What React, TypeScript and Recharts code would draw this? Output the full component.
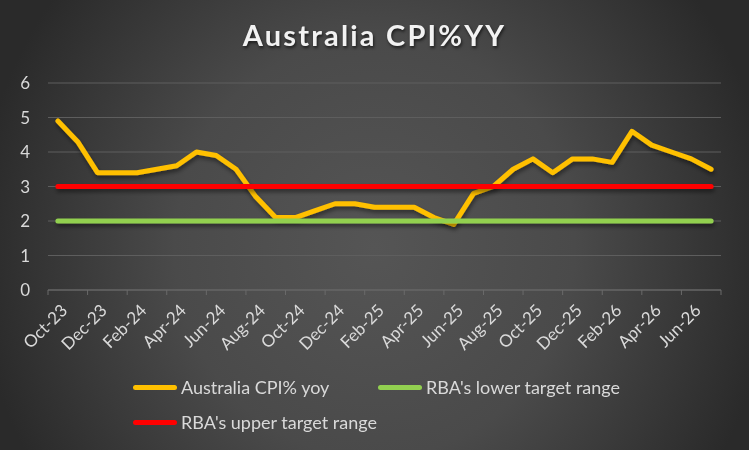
import React from 'react';
import { LineChart, Line, XAxis, YAxis, CartesianGrid } from 'recharts';

const months = [
  'Oct-23', 'Nov-23', 'Dec-23', 'Jan-24', 'Feb-24', 'Mar-24', 'Apr-24', 'May-24', 'Jun-24', 'Jul-24',
  'Aug-24', 'Sep-24', 'Oct-24', 'Nov-24', 'Dec-24', 'Jan-25', 'Feb-25', 'Mar-25', 'Apr-25', 'May-25',
  'Jun-25', 'Jul-25', 'Aug-25', 'Sep-25', 'Oct-25', 'Nov-25', 'Dec-25', 'Jan-26', 'Feb-26', 'Mar-26',
  'Apr-26', 'May-26', 'Jun-26', 'Jul-26',
];

const cpiYoy = [
  4.9, 4.3, 3.4, 3.4, 3.4, 3.5, 3.6, 4.0, 3.9, 3.5,
  2.7, 2.1, 2.1, 2.3, 2.5, 2.5, 2.4, 2.4, 2.4, 2.1,
  1.9, 2.8, 3.0, 3.5, 3.8, 3.4, 3.8, 3.8, 3.7, 4.6,
  4.2, 4.0, 3.8, 3.5,
];

const lowerTarget = [
  2, 2, 2, 2, 2, 2, 2, 2, 2, 2, 2, 2, 2, 2, 2, 2, 2,
  2, 2, 2, 2, 2, 2, 2, 2, 2, 2, 2, 2, 2, 2, 2, 2, 2,
];

const upperTarget = [
  3, 3, 3, 3, 3, 3, 3, 3, 3, 3, 3, 3, 3, 3, 3, 3, 3,
  3, 3, 3, 3, 3, 3, 3, 3, 3, 3, 3, 3, 3, 3, 3, 3, 3,
];

const yTicks = [0, 1, 2, 3, 4, 5, 6];

const seriesNames = ['Australia CPI% yoy', "RBA's lower target range", "RBA's upper target range"];
const seriesColors = ['#FFC000', '#92D050', '#FF0000'];

const data = months.map((m, i) => ({
  month: m,
  cpi: cpiYoy[i],
  lower: lowerTarget[i],
  upper: upperTarget[i],
}));

const FONT = "Lato, 'Open Sans', sans-serif";
const TEXT = '#d9d9d9';
const AXIS = '#6a6a6a';

const XTick = (props: any) => {
  const { x, y, payload, index } = props;
  const half = payload && typeof payload.offset === 'number' && payload.offset > 0 ? payload.offset : 9.9;
  const last = months.length - 1;
  const ax = x + 6;
  const ay = y + 17;
  return (
    <g>
      {index % 2 === 0 && (
        <line x1={x - half} x2={x - half} y1={y} y2={y + 5} stroke={AXIS} strokeWidth={1} />
      )}
      {index === last && (
        <line x1={x + half} x2={x + half} y1={y} y2={y + 5} stroke={AXIS} strokeWidth={1} />
      )}
      {index % 2 === 0 && (
        <text
          x={ax}
          y={ay}
          textAnchor="end"
          fill={TEXT}
          fontSize={17}
          fontFamily={FONT}
          transform={`rotate(-45, ${ax}, ${ay})`}
          dominantBaseline="central"
        >
          {payload.value}
        </text>
      )}
    </g>
  );
};

const LegendItem = ({ color, label, left, top }: { color: string; label: string; left: number; top: number }) => (
  <div style={{ position: 'absolute', left, top, display: 'flex', alignItems: 'center', height: 22 }}>
    <div style={{ width: 44, height: 5, borderRadius: 3, background: color, marginRight: 4 }} />
    <span style={{ color: TEXT, fontSize: 18, fontFamily: FONT, whiteSpace: 'nowrap' }}>{label}</span>
  </div>
);

export default function App() {
  return (
    <div
      style={{
        position: 'fixed',
        left: 0,
        top: 0,
        width: 749,
        height: 450,
        overflow: 'hidden',
        background:
          'radial-gradient(ellipse 400px 420px at 50% 55%, #555555 0%, #4a4a4a 50%, #2a2a2a 100%)',
      }}
    >
      <div
        style={{
          position: 'absolute',
          left: 0,
          top: 17,
          width: 749,
          textAlign: 'center',
          color: '#f2f2f2',
          fontFamily: FONT,
          fontWeight: 700,
          fontSize: 29,
          letterSpacing: 2.2,
          textShadow: '1px 2px 3px rgba(0,0,0,0.6)',
        }}
      >
        Australia CPI%YY
      </div>
      <div style={{ position: 'absolute', left: 0, top: 0 }}>
        <LineChart width={749} height={450} data={data} margin={{ top: 83, right: 28, bottom: 100, left: 0 }}>
          <defs>
            <filter id="lineShadow" filterUnits="userSpaceOnUse" x="0" y="0" width="749" height="450">
              <feDropShadow dx="1" dy="3" stdDeviation="2" floodColor="#000" floodOpacity="0.45" />
            </filter>
          </defs>
          <CartesianGrid vertical={false} stroke="#5e5e5e" strokeWidth={1} />
          <XAxis
            dataKey="month"
            scale="band"
            interval={0}
            tickSize={0}
            tickMargin={0}
            tickLine={false}
            axisLine={{ stroke: AXIS, strokeWidth: 1 }}
            tick={<XTick />}
            height={60}
          />
          <YAxis
            domain={[0, 6]}
            ticks={yTicks}
            width={48}
            axisLine={false}
            tickLine={false}
            tickSize={0}
            tickMargin={18}
            tick={{ fill: TEXT, fontSize: 17, fontFamily: FONT }}
          />
          <Line
            dataKey="cpi"
            stroke={seriesColors[0]}
            strokeWidth={5}
            dot={false}
            strokeLinecap="round"
            strokeLinejoin="round"
            filter="url(#lineShadow)"
            isAnimationActive={false}
          />
          <Line
            dataKey="lower"
            stroke={seriesColors[1]}
            strokeWidth={5}
            dot={false}
            strokeLinecap="round"
            filter="url(#lineShadow)"
            isAnimationActive={false}
          />
          <Line
            dataKey="upper"
            stroke={seriesColors[2]}
            strokeWidth={5}
            dot={false}
            strokeLinecap="round"
            filter="url(#lineShadow)"
            isAnimationActive={false}
          />
        </LineChart>
      </div>
      <LegendItem color={seriesColors[0]} label={seriesNames[0]} left={133} top={376} />
      <LegendItem color={seriesColors[1]} label={seriesNames[1]} left={378} top={376} />
      <LegendItem color={seriesColors[2]} label={seriesNames[2]} left={133} top={411} />
    </div>
  );
}
